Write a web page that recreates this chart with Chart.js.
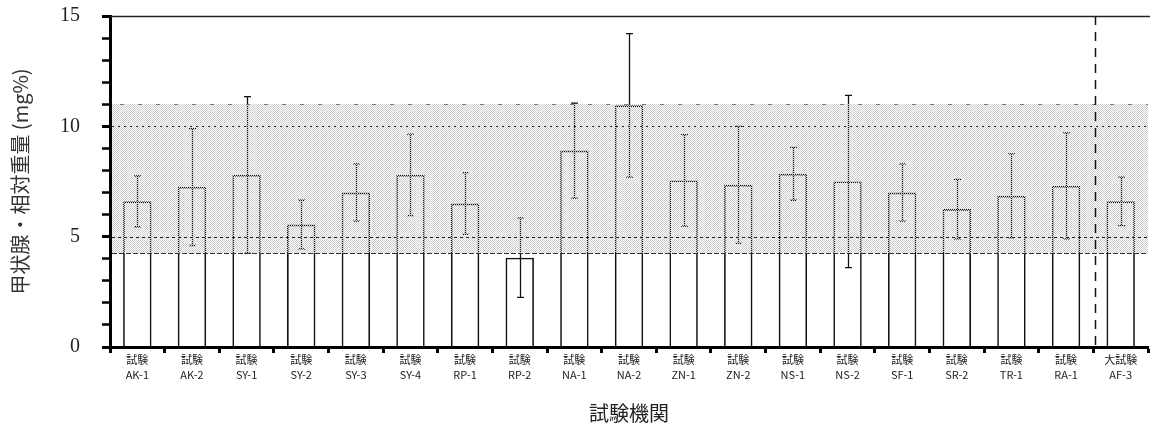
<!DOCTYPE html>
<html>
<head>
<meta charset="utf-8">
<script src="https://cdn.jsdelivr.net/npm/chart.js@4/dist/chart.umd.min.js"></script>
<style>
  html, body { margin: 0; padding: 0; background: #fff; }
  #wrap { width: 1157px; height: 435px; }
</style>
</head>
<body>
<div id="wrap"><canvas id="c" width="1157" height="435"></canvas></div>
<script>
// ---- data ----
const categories = ['AK-1','AK-2','SY-1','SY-2','SY-3','SY-4','RP-1','RP-2','NA-1','NA-2',
                    'ZN-1','ZN-2','NS-1','NS-2','SF-1','SR-2','TR-1','RA-1','AF-3'];
const labelPrefix = ['試験','試験','試験','試験','試験','試験','試験','試験','試験','試験',
                     '試験','試験','試験','試験','試験','試験','試験','試験','大試験'];
const means = [6.6, 7.25, 7.8, 5.55, 7.0, 7.8, 6.5, 4.05, 8.9, 10.95,
               7.55, 7.35, 7.85, 7.5, 7.0, 6.25, 6.85, 7.3, 6.6];
const sds   = [1.15, 2.65, 3.55, 1.1, 1.3, 1.85, 1.4, 1.8, 2.15, 3.25,
               2.07, 2.65, 1.2, 3.9, 1.3, 1.35, 1.9, 2.4, 1.1];
const bandLow = 4.27;
const bandHigh = 11.0;
const refLines = [5, 10];
const yTicks = [0, 5, 10, 15];
const dividerAfter = 17; // dashed line between RA-1 and AF-3

const overlay = {
  id: 'overlay',
  afterDatasetsDraw(chart) {
    const {ctx, chartArea: a, scales: {x, y}} = chart;
    ctx.save();
    // error bars
    ctx.strokeStyle = '#111';
    ctx.lineWidth = 1.3;
    means.forEach((m, i) => {
      const px = Math.round(x.getPixelForValue(i)) + 0.5;
      const t = y.getPixelForValue(m + sds[i]);
      const b = y.getPixelForValue(m - sds[i]);
      ctx.beginPath();
      ctx.moveTo(px, t); ctx.lineTo(px, b);
      ctx.moveTo(px - 3.5, t); ctx.lineTo(px + 3.5, t);
      ctx.moveTo(px - 3.5, b); ctx.lineTo(px + 3.5, b);
      ctx.stroke();
    });
    // shaded band (dot pattern)
    const pc = document.createElement('canvas');
    pc.width = 2; pc.height = 2;
    const p = pc.getContext('2d');
    p.fillStyle = '#cdcdcd';
    p.fillRect(0, 0, 1, 1); p.fillRect(1, 1, 1, 1);
    ctx.fillStyle = ctx.createPattern(pc, 'repeat');
    const yt = Math.round(y.getPixelForValue(bandHigh));
    const yb = Math.round(y.getPixelForValue(bandLow));
    ctx.fillRect(a.left + 2, yt, a.right - a.left - 2, yb - yt);
    // band edges
    ctx.lineWidth = 1;
    ctx.strokeStyle = '#333';
    ctx.setLineDash([5, 2]);
    ctx.beginPath(); ctx.moveTo(a.left + 2, yb + 0.5); ctx.lineTo(a.right, yb + 0.5); ctx.stroke();
    ctx.strokeStyle = '#777';
    ctx.setLineDash([4, 14]);
    ctx.beginPath(); ctx.moveTo(a.left + 10, yt + 0.5); ctx.lineTo(a.right, yt + 0.5); ctx.stroke();
    // reference lines
    refLines.forEach((v, k) => {
      const py = Math.round(y.getPixelForValue(v)) + 0.5;
      ctx.strokeStyle = '#222';
      ctx.setLineDash(k === 0 ? [3, 3] : [2, 4]);
      ctx.beginPath(); ctx.moveTo(a.left + 2, py); ctx.lineTo(a.right, py); ctx.stroke();
    });
    // dashed divider
    const dx = Math.round((x.getPixelForValue(dividerAfter) + x.getPixelForValue(dividerAfter + 1)) / 2) + 2.5;
    ctx.strokeStyle = '#111';
    ctx.lineWidth = 1.5;
    ctx.setLineDash([9, 7]);
    ctx.beginPath(); ctx.moveTo(dx, a.top); ctx.lineTo(dx, a.bottom); ctx.stroke();
    // top border
    ctx.setLineDash([]);
    ctx.strokeStyle = '#222';
    ctx.lineWidth = 1.5;
    ctx.beginPath(); ctx.moveTo(a.left, a.top + 0.5); ctx.lineTo(a.right + 2, a.top + 0.5); ctx.stroke();
    ctx.restore();
  }
};

new Chart(document.getElementById('c'), {
  type: 'bar',
  data: {
    labels: categories.map((c, i) => [labelPrefix[i], c]),
    datasets: [{
      data: means,
      backgroundColor: 'rgba(255,255,255,0)',
      borderColor: '#111',
      borderWidth: 1.6,
      borderSkipped: 'bottom',
      barPercentage: 0.52,
      categoryPercentage: 1.0
    }]
  },
  options: {
    responsive: false,
    animation: false,
    devicePixelRatio: 1,
    layout: { padding: { top: 16, right: 9, left: 0, bottom: 0 } },
    plugins: { legend: { display: false }, tooltip: { enabled: false } },
    scales: {
      x: {
        afterFit(s) { s.height = 88; s.paddingLeft = 0; s.paddingRight = 0; },
        grid: { offset: true, drawOnChartArea: false, drawTicks: true, tickLength: 6, tickWidth: 3, tickColor: '#000' },
        border: { display: true, color: '#000', width: 3 },
        ticks: {
          autoSkip: false, maxRotation: 0, minRotation: 0, padding: 0,
          color: '#222',
          font: { family: '"Noto Sans CJK JP", sans-serif', size: 11, lineHeight: 1.3 }
        },
        title: {
          display: true, text: '試験機関', color: '#222',
          font: { family: '"Noto Sans CJK JP", sans-serif', size: 20 },
          padding: { top: 0, bottom: 10 }
        }
      },
      y: {
        min: 0, max: 15,
        afterFit(s) { s.width = 110; s.paddingTop = 0; s.paddingBottom = 0; },
        afterBuildTicks(s) {
          const t = [];
          for (let v = 0; v <= 15; v++) t.push({ value: v });
          s.ticks = t;
        },
        grid: {
          drawOnChartArea: false, drawTicks: true, tickLength: 8, tickColor: '#000',
          tickWidth: (c) => (c.tick && yTicks.includes(c.tick.value)) ? 3 : 2.5
        },
        border: { display: true, color: '#000', width: 3 },
        ticks: {
          autoSkip: false, padding: 22, color: '#222',
          font: { family: '"Liberation Serif", "DejaVu Serif", serif', size: 20 },
          callback: (v) => yTicks.includes(v) ? String(v) : ''
        },
        title: {
          display: true, text: '甲状腺・相対重量 (mg%)', color: '#333',
          font: { family: '"Noto Sans CJK JP", sans-serif', size: 20 },
          padding: { top: 8, bottom: 0 }
        }
      }
    }
  },
  plugins: [overlay]
});
</script>
</body>
</html>
